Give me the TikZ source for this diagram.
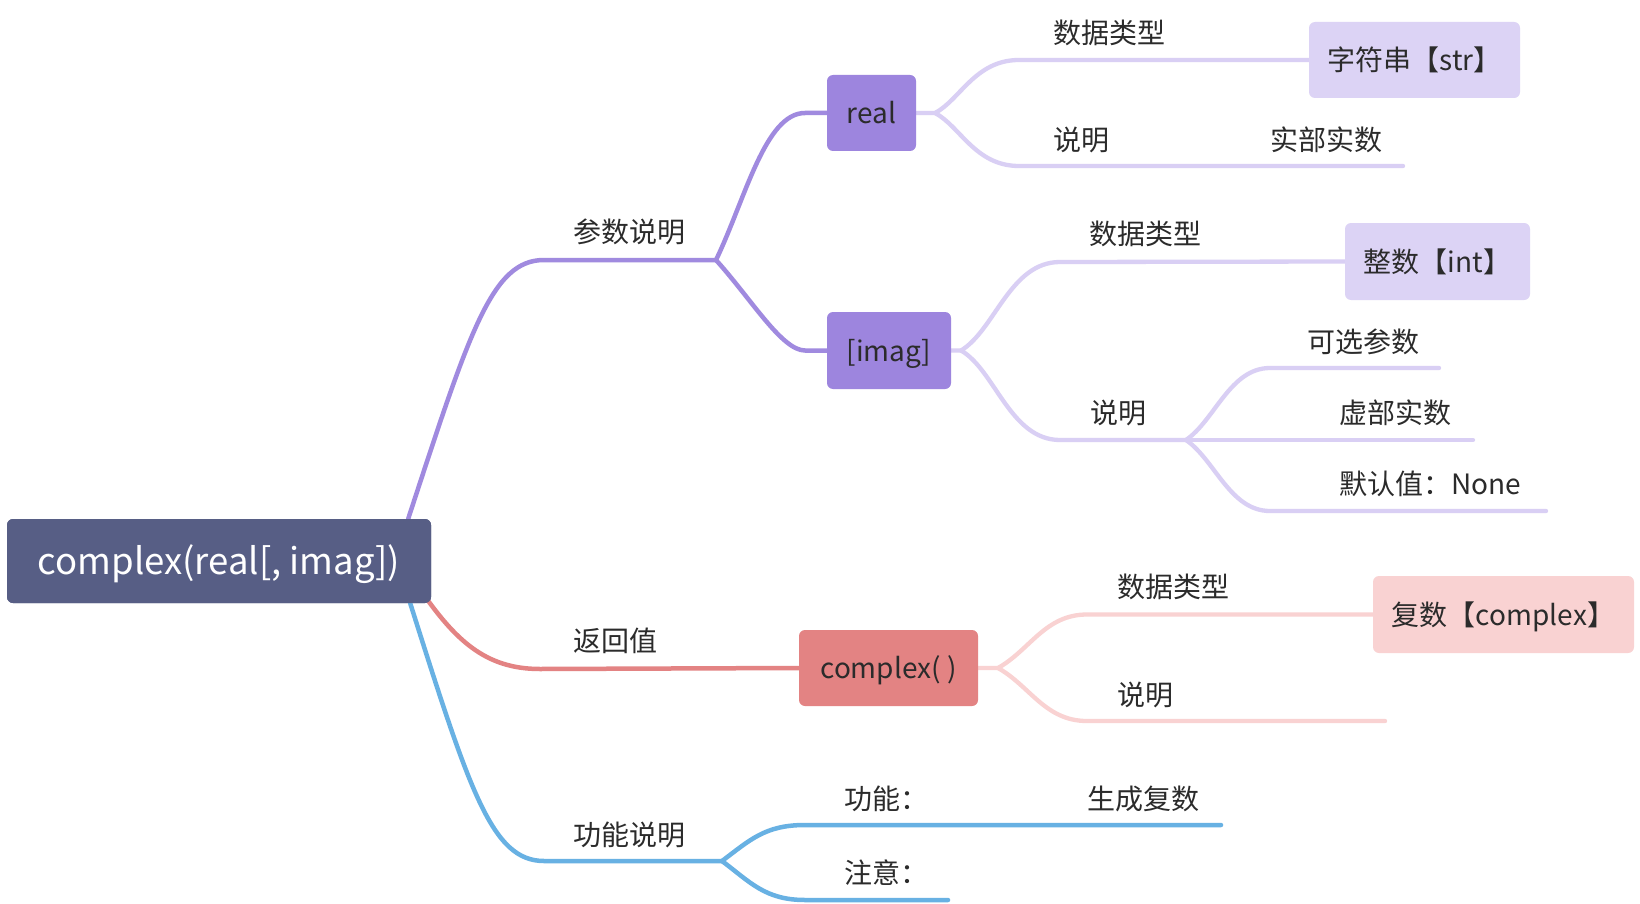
\documentclass[tikz,border=0pt]{standalone}
\usepackage{fontspec}
\setmainfont{Noto Sans CJK SC}
\definecolor{rootc}{HTML}{575E85}
\definecolor{purp}{HTML}{A08ADF}
\definecolor{purpbox}{HTML}{9D85DE}
\definecolor{lav}{HTML}{D9CFF4}
\definecolor{lavbox}{HTML}{DCD3F5}
\definecolor{redc}{HTML}{E38383}
\definecolor{pinkc}{HTML}{F9D2D2}
\definecolor{bluec}{HTML}{68B1E3}
\definecolor{txt}{HTML}{2B2B2B}
\tikzset{
  lbl/.style={font=\fontsize{28}{32}\selectfont, text=txt, inner sep=0pt, anchor=west, text height=24.6pt, text depth=3.4pt},
  boxn/.style={rounded corners=6pt, inner sep=0pt, text=txt, font=\fontsize{28}{32}\selectfont, text height=24.6pt, text depth=3.4pt},
  rootn/.style={boxn, fill=rootc, text=white, minimum width=424pt, minimum height=84pt,
      font=\fontsize{36.5}{42}\selectfont, text height=32pt, text depth=4.5pt},
  br/.style={line width=4.5pt, line cap=round},
  brs/.style={line width=4.3pt, line cap=round},
}
\begin{document}
\begin{tikzpicture}[x=1pt,y=-1pt]
\useasboundingbox[fill=white] (0,0) rectangle (1640,904);

% ---- boxes (positions) ----
\node[rootn] (root) at (219,561) {\phantom{complex(real[, imag])}};
\path (871.5,113) node[boxn, minimum width=89pt, minimum height=76pt] (real) {\phantom{real}};
\path (889,350.5) node[boxn, minimum width=124pt, minimum height=77pt] (imag) {\phantom{[imag]}};
\path (888.5,668) node[boxn, minimum width=179pt, minimum height=76pt] (cpx) {\phantom{complex( )}};
\path (1414.5,60) node[boxn, minimum width=211pt, minimum height=76pt] (str) {\phantom{字符串【str】}};
\path (1437.5,261.5) node[boxn, minimum width=185pt, minimum height=77pt] (int) {\phantom{整数【int】}};
\path (1503.5,614.5) node[boxn, minimum width=261pt, minimum height=77pt] (cplx) {\phantom{复数【complex】}};

% ---- coordinates ----
\coordinate (j1) at (716,260);
\coordinate (f1) at (935,113);
\coordinate (e1) at (1403,166);
\coordinate (f2) at (961,350.5);
\coordinate (f3) at (1186,440);
\coordinate (e2) at (1439,368);
\coordinate (e3) at (1473,440);
\coordinate (e4) at (1546,511);
\coordinate (f4) at (998,668);
\coordinate (e5) at (1385,721);
\coordinate (j2) at (722,861);
\coordinate (e6) at (1221,825);
\coordinate (e7) at (948,900);

% ---- purple branch ----
\draw[br,purp] ([xshift=-23pt]root.north east) .. controls (470,330) and (492,260) .. (544,260) -- (j1);
\draw[br,purp] (j1) .. controls (745,200) and (765,113) .. (805,113) -- (real.west);
\draw[br,purp] (j1) .. controls (752,300) and (782,350.5) .. (805,350.5) -- (imag.west);
\draw[brs,lav] (real.east) -- (f1) .. controls (960,100) and (975,60) .. (1019,60) -- (str.west);
\draw[brs,lav] (f1) .. controls (960,126) and (975,166) .. (1019,166) -- (e1);
\draw[brs,lav] (imag.east) -- (f2) .. controls (995,330) and (1010,262) .. (1060,262) -- (int.west);
\draw[brs,lav] (f2) .. controls (995,370) and (1010,440) .. (1060,440) -- (f3);
\draw[brs,lav] (f3) .. controls (1215,420) and (1230,368) .. (1270,368) -- (e2);
\draw[brs,lav] (f3) -- (e3);
\draw[brs,lav] (f3) .. controls (1215,460) and (1230,511) .. (1270,511) -- (e4);

% ---- red branch ----
\draw[br,redc] ([xshift=-12pt,yshift=15pt]root.south east) .. controls (455,640) and (485,669) .. (540,669) -- (cpx.west);
\draw[brs,pinkc] (cpx.east) -- (f4) .. controls (1030,650) and (1045,614.5) .. (1087,614.5) -- (cplx.west);
\draw[brs,pinkc] (f4) .. controls (1030,686) and (1045,721) .. (1087,721) -- (e5);

% ---- blue branch ----
\draw[br,bluec] ([xshift=-21pt]root.south east) .. controls (470,792) and (492,861) .. (544,861) -- (j2);
\draw[br,bluec] (j2) .. controls (750,840) and (765,825) .. (805,825) -- (e6);
\draw[br,bluec] (j2) .. controls (750,882) and (765,900) .. (805,900) -- (e7);

% ---- box fills over lines ----
\node[rootn] (rootb) at (root) {complex(real[, imag])};
\node[boxn, fill=purpbox, minimum width=89pt, minimum height=76pt] (realb) at (real) {real};
\node[boxn, fill=purpbox, minimum width=124pt, minimum height=77pt] (imagb) at (imag) {[imag]};
\node[boxn, fill=redc, minimum width=179pt, minimum height=76pt] (cpxb) at (cpx) {complex( )};
\node[boxn, fill=lavbox, minimum width=211pt, minimum height=76pt] (strb) at (str) {字符串【str】};
\node[boxn, fill=lavbox, minimum width=185pt, minimum height=77pt] (intb) at (int) {整数【int】};
\node[boxn, fill=pinkc, minimum width=261pt, minimum height=77pt] (cplxb) at (cplx) {复数【complex】};

% ---- labels ----
\node[lbl] (l1) at (573,232) {参数说明};
\node[lbl] (l2) at (1053,33) {数据类型};
\node[lbl] (l3) at (1053,140) {说明};
\node[lbl] (l4) at (1270,140) {实部实数};
\node[lbl] (l5) at (1089,234) {数据类型};
\node[lbl] (l6) at (1090,413) {说明};
\node[lbl] (l7) at (1307,342) {可选参数};
\node[lbl] (l8) at (1339,413) {虚部实数};
\node[lbl] (l9) at (1339,484) {默认值：None};
\node[lbl] (l10) at (573,641) {返回值};
\node[lbl] (l11) at (1117,587) {数据类型};
\node[lbl] (l12) at (1117,695) {说明};
\node[lbl] (l13) at (573,835) {功能说明};
\node[lbl] (l14) at (844,799) {功能：};
\node[lbl] (l15) at (1087,799) {生成复数};
\node[lbl] (l16) at (844,873) {注意：};
\end{tikzpicture}
\end{document}
